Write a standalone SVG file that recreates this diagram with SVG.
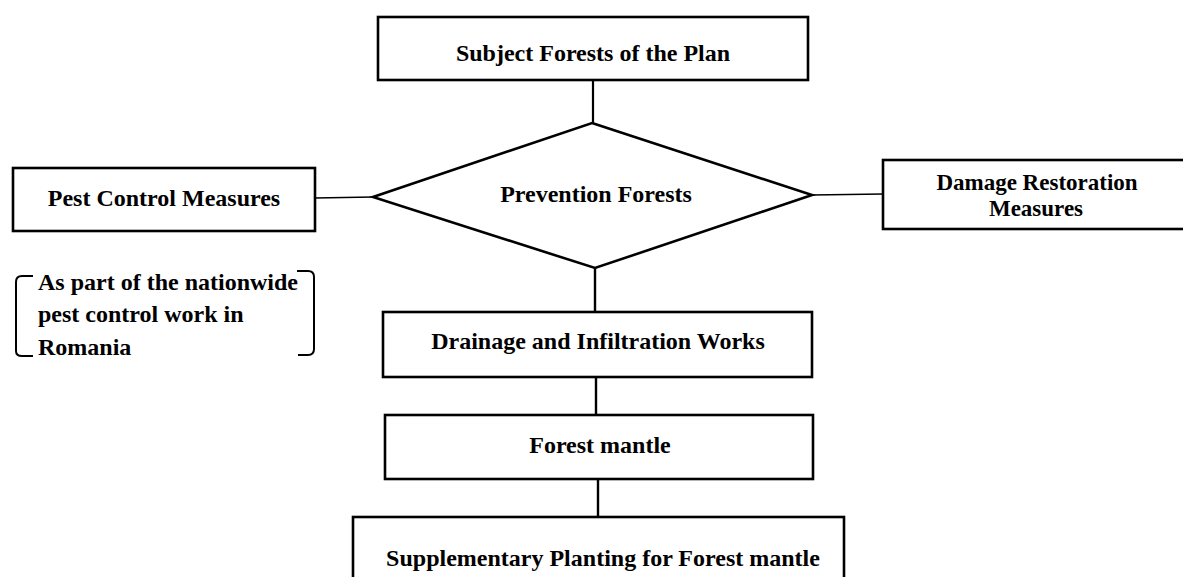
<svg xmlns="http://www.w3.org/2000/svg" width="1183" height="577" viewBox="0 0 1183 577">
<style>
.box{fill:#fff;stroke:#000;stroke-width:2.6}
.t{font-family:"Liberation Serif","Times New Roman",serif;font-weight:bold;font-size:24px;fill:#000}
.s{font-size:23px}
.c{text-anchor:middle}
.ln{stroke:#000;fill:none}
</style>
<rect width="1183" height="577" fill="#fff"/>
<g id="connectors">
<line class="ln" x1="593" y1="80" x2="593" y2="123" stroke-width="2.2"/>
<line class="ln" x1="315" y1="198" x2="373" y2="197" stroke-width="1.4"/>
<line class="ln" x1="812" y1="195" x2="883" y2="194" stroke-width="1.4"/>
<line class="ln" x1="595" y1="268" x2="595" y2="312" stroke-width="2.4"/>
<line class="ln" x1="596" y1="377" x2="596" y2="415" stroke-width="2.4"/>
<line class="ln" x1="598" y1="479" x2="598" y2="517" stroke-width="2.4"/>
</g>
<g id="subject">
<rect class="box" x="378" y="17" width="430" height="63"/>
<text class="t c" x="593" y="61">Subject Forests of the Plan</text>
</g>
<g id="prevention">
<polygon class="box" points="592,123 812,195 595,268 373,197" stroke-width="2"/>
<text class="t c" x="596" y="202">Prevention Forests</text>
</g>
<g id="pest">
<rect class="box" x="13" y="168" width="302" height="63"/>
<text class="t c" x="164" y="206">Pest Control Measures</text>
</g>
<g id="damage">
<rect class="box" x="883" y="160" width="320" height="69"/>
<text class="t s c" x="1037" y="190">Damage Restoration</text>
<text class="t s c" x="1036" y="216">Measures</text>
</g>
<g id="note">
<path class="ln" stroke-width="2" d="M33,276 L22,276 Q16,276 16,282 L16,351 Q16,356 22,356 L33,356"/>
<path class="ln" stroke-width="2" d="M297,271 L308,271 Q314,271 314,277 L314,349 Q314,355 308,355 L298,355"/>
<text class="t" x="38" y="290">As part of the nationwide</text>
<text class="t" x="38" y="322">pest control work in</text>
<text class="t" x="38" y="355">Romania</text>
</g>
<g id="drainage">
<rect class="box" x="383" y="312" width="429" height="65"/>
<text class="t c" x="598" y="349">Drainage and Infiltration Works</text>
</g>
<g id="mantle">
<rect class="box" x="385" y="415" width="428" height="64"/>
<text class="t c" x="600" y="453">Forest mantle</text>
</g>
<g id="supplementary">
<rect class="box" x="353" y="517" width="491" height="80"/>
<text class="t c" x="603" y="566">Supplementary Planting for Forest mantle</text>
</g>
</svg>
